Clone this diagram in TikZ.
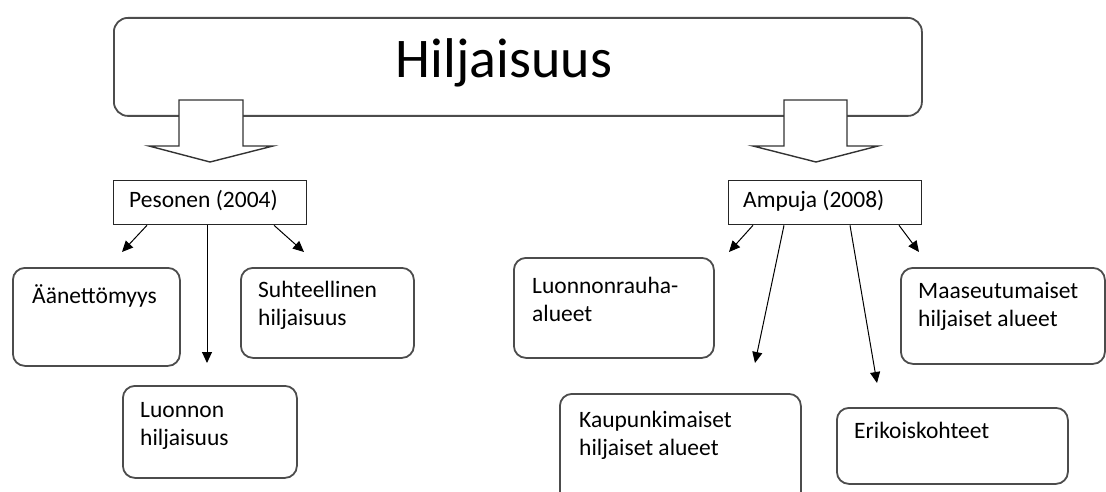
\documentclass[tikz,border=0pt]{standalone}
\usepackage{fontspec}
\setmainfont{Carlito}
\usetikzlibrary{arrows.meta}
\newcommand\mystrut{\rule{0pt}{19pt}}
\begin{document}
\begin{tikzpicture}[x=1pt,y=-1pt,
  rbox/.style={draw=black!70, line width=1.8pt, rounded corners=12pt, fill=white, inner sep=0pt, anchor=north west},
  hbox/.style={draw=black!85, line width=1.3pt, fill=white, inner sep=0pt, anchor=north west},
  txt/.style={inner sep=0pt, anchor=north west, align=left, font=\fontsize{23.5}{28.5}\selectfont},
  conn/.style={draw=black, line width=1pt, -{Triangle[length=11pt,width=10pt]}},
  barrow/.style={draw=black!80, line width=1.4pt, fill=white, line join=miter}]
\useasboundingbox (0,0) rectangle (1106,492);
\clip (0,0) rectangle (1106,492);

% main box
\node[rbox, rounded corners=14pt, minimum width=808pt, minimum height=98pt] (main) at (113,17) {};
\node[inner sep=0pt, anchor=base, font=\fontsize{56}{60}\selectfont] (title) at (504,78) {Hiljaisuus};

% block arrows
\draw[barrow] (179,100) -- (179,146) -- (149,146) -- (210,162) -- (273,146) -- (243,146) -- (243,100) -- cycle;
\draw[barrow] (784,100) -- (784,146) -- (753,146) -- (816,162) -- (878,146) -- (847,146) -- (847,100) -- cycle;

% source boxes
\node[hbox, minimum width=193pt, minimum height=44pt] (pes) at (113,180) {};
\node[txt] (pestxt) at (129,188) {\mystrut Pesonen (2004)};
\node[hbox, minimum width=193pt, minimum height=44pt] (amp) at (728,180) {};
\node[txt] (amptxt) at (743,188) {\mystrut Ampuja (2008)};

% left branch boxes
\node[rbox, minimum width=167pt, minimum height=98pt] (aan) at (12,267) {};
\node[txt] (aantxt) at (32,284) {\mystrut Äänettömyys};
\node[rbox, minimum width=173pt, minimum height=90pt] (suh) at (240,267) {};
\node[txt] (suhtxt) at (258,278) {\mystrut Suhteellinen\\hiljaisuus};
\node[rbox, minimum width=174pt, minimum height=92pt] (luo) at (122,385) {};
\node[txt] (luotxt) at (140,398) {\mystrut Luonnon\\hiljaisuus};

% right branch boxes
\node[rbox, minimum width=200pt, minimum height=100pt] (lra) at (513,257) {};
\node[txt] (lratxt) at (532,274) {\mystrut Luonnonrauha-\\alueet};
\node[rbox, minimum width=241pt, minimum height=110pt] (kau) at (559,393) {};
\node[txt] (kautxt) at (579,408) {\mystrut Kaupunkimaiset\\hiljaiset alueet};
\node[rbox, minimum width=231pt, minimum height=76pt] (eri) at (836,407) {};
\node[txt] (eritxt) at (854,419) {\mystrut Erikoiskohteet};
\node[rbox, minimum width=204pt, minimum height=96pt] (maa) at (900,267) {};
\node[txt] (maatxt) at (918,279) {\mystrut Maaseutumaiset\\hiljaiset alueet};

% arrow tips (free ends)
\coordinate (t1) at (122,252);
\coordinate (t2) at (207,363);
\coordinate (t3) at (304,252);
\coordinate (t4) at (729,252);
\coordinate (t5) at (755,363);
\coordinate (t6) at (877,383);
\coordinate (t7) at (919,252);

\draw[conn] ([xshift=34pt]pes.south west) -- (t1);
\draw[conn] ([xshift=94pt]pes.south west) -- (t2);
\draw[conn] ([xshift=161pt]pes.south west) -- (t3);
\draw[conn] ([xshift=25pt]amp.south west) -- (t4);
\draw[conn] ([xshift=56pt]amp.south west) -- (t5);
\draw[conn] ([xshift=122pt]amp.south west) -- (t6);
\draw[conn] ([xshift=171pt]amp.south west) -- (t7);
\end{tikzpicture}
\end{document}
